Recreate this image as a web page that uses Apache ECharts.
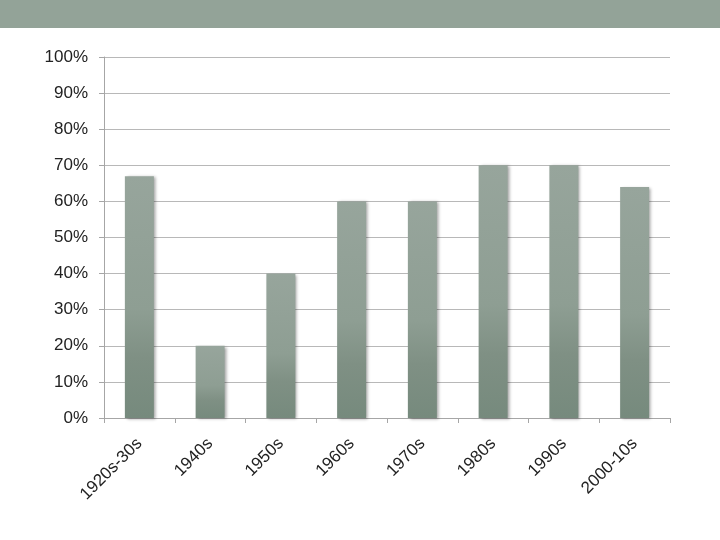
<!DOCTYPE html>
<html>
<head>
<meta charset="utf-8">
<script src="https://cdn.jsdelivr.net/npm/echarts@6/dist/echarts.min.js"></script>
<style>
html,body{margin:0;padding:0;background:#fff;}
#main{width:720px;height:540px;}
</style>
</head>
<body>
<div id="main"></div>
<script>
var categories = ['1920s-30s', '1940s', '1950s', '1960s', '1970s', '1980s', '1990s', '2000-10s'];
var values = [67, 20, 40, 60, 60, 70, 70, 64];
var yTicks = [0, 10, 20, 30, 40, 50, 60, 70, 80, 90, 100];

var chart = echarts.init(document.getElementById('main'));
chart.setOption({
  animation: false,
  backgroundColor: '#ffffff',
  graphic: [{
    type: 'rect',
    shape: {x: 0, y: 0, width: 720, height: 28},
    style: {fill: '#93a398'},
    silent: true
  }],
  grid: {left: 104, right: 50, top: 57, bottom: 122, containLabel: false},
  xAxis: {
    type: 'category',
    data: categories,
    boundaryGap: true,
    axisLine: {show: true, lineStyle: {color: '#a6a6a6', width: 1}},
    axisTick: {show: true, length: 5, lineStyle: {color: '#a6a6a6'}},
    axisLabel: {
      rotate: 45, margin: 23, fontSize: 17, color: '#222222',
      fontFamily: 'Liberation Sans, Arial, sans-serif', interval: 0
    }
  },
  yAxis: {
    type: 'value',
    min: yTicks[0], max: yTicks[yTicks.length - 1], interval: 10,
    axisLine: {show: true, lineStyle: {color: '#a6a6a6', width: 1}},
    axisTick: {show: true, length: 5, lineStyle: {color: '#a6a6a6'}},
    splitLine: {show: true, lineStyle: {color: '#b8b8b8', width: 1}},
    axisLabel: {
      formatter: '{value}%', fontSize: 17, color: '#222222', margin: 16,
      fontFamily: 'Liberation Sans, Arial, sans-serif'
    }
  },
  series: [{
    type: 'bar',
    data: values,
    barWidth: 29,
    itemStyle: {
      color: {
        type: 'linear', x: 0, y: 0, x2: 0, y2: 1,
        colorStops: [
          {offset: 0, color: '#97a59c'},
          {offset: 0.55, color: '#8e9e93'},
          {offset: 0.75, color: '#7f9084'},
          {offset: 1, color: '#768a7d'}
        ]
      },
      shadowColor: 'rgba(0,0,0,0.35)',
      shadowBlur: 3,
      shadowOffsetX: 2,
      shadowOffsetY: 1
    }
  }]
});
</script>
</body>
</html>
